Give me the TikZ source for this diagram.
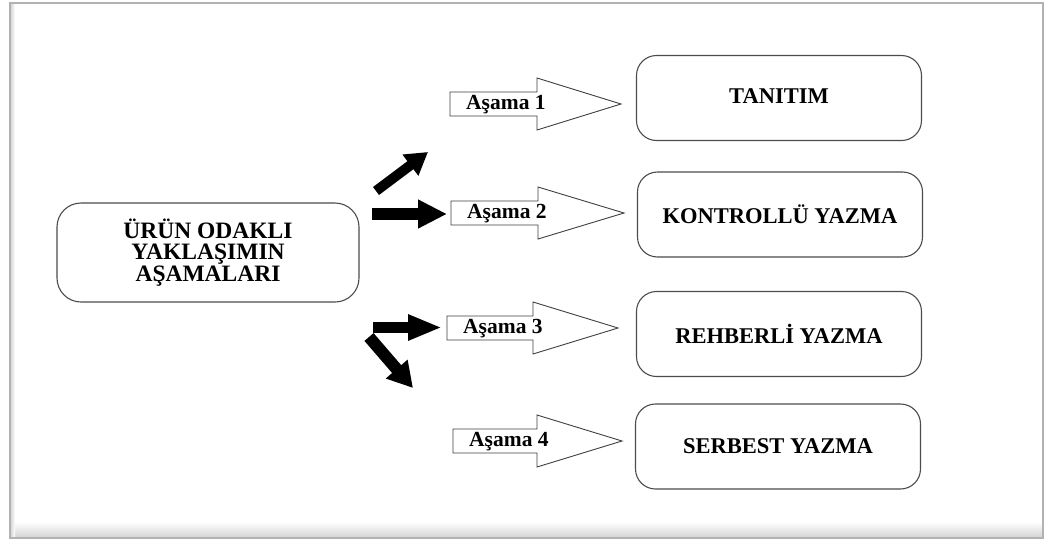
\documentclass[tikz,border=0pt]{standalone}
\usepackage{fontspec}
\setmainfont{Liberation Serif}
\usetikzlibrary{arrows.meta}

% outlined stage arrow with a label in its shaft
% #1 name, #2 left x, #3 head base x, #4 tip x, #5 centre y, #6 label
\newcommand\phasearrow[6]{%
  \draw[phaseline] (#2,#5-12) -- (#3,#5-12) -- (#3,#5-26) -- (#4,#5)
    -- (#3,#5+26) -- (#3,#5+12) -- (#2,#5+12) -- cycle;
  \node[phaselabel, anchor=west] (#1) at (#2+16,#5+1) {#6};
}

\begin{document}
\begin{tikzpicture}[x=1pt,y=-1pt,
  stagebox/.style={draw=black!70, line width=1.1pt, rounded corners=20pt,
    minimum width=285pt, minimum height=85pt, fill=white,
    font=\fontsize{22.5}{24}\selectfont\bfseries},
  rootbox/.style={draw=black!70, line width=1.1pt, rounded corners=24pt,
    minimum width=302pt, minimum height=99pt, fill=white, align=center,
    font=\fontsize{23.5}{21.5}\selectfont\bfseries},
  phaseline/.style={draw=black!75, line width=0.9pt, fill=white},
  phaselabel/.style={inner sep=0pt, font=\fontsize{21.5}{23}\selectfont\bfseries},
  pointer/.style={line width=#1, black, line cap=butt},
]
\useasboundingbox (0,0) rectangle (1046,541);

% page frame with a soft inner shadow
\fill[white] (0,0) rectangle (1046,541);
\shade[top color=white, bottom color=black!18] (10,522) rectangle (1043,538);
\shade[left color=black!18, right color=white] (10,3) rectangle (15,538);
\draw[black!30, line width=1.2pt] (10,3) rectangle (1043,538);

% main concept
\node[rootbox] (root) at (208,252.5) {\raisebox{-4pt}{\parbox{200pt}{\centering ÜRÜN ODAKLI\\YAKLAŞIMIN\\AŞAMALARI}}};

% stage boxes
\node[stagebox] (s1) at (779,98)  {\raisebox{4pt}{TANITIM}};
\node[stagebox] (s2) at (780,214.5) {KONTROLLÜ YAZMA};
\node[stagebox] (s3) at (779,334) {REHBERLİ YAZMA};
\node[stagebox] (s4) at (778,446.5) {SERBEST YAZMA};

% outlined stage arrows
\phasearrow{p1}{450}{537}{621}{104}{Aşama 1}
\phasearrow{p2}{451}{538}{624}{213}{Aşama 2}
\phasearrow{p3}{447}{533}{618}{328}{Aşama 3}
\phasearrow{p4}{453}{537}{622}{441}{Aşama 4}

% solid pointers out of the main concept
\coordinate (a1s) at (376,191); \coordinate (a1e) at (428,152);
\coordinate (a2s) at (372,214); \coordinate (a2e) at (447,214);
\coordinate (a3s) at (373,327.5); \coordinate (a3e) at (442,327.5);
\coordinate (a4s) at (369,337); \coordinate (a4e) at (413,388);
\draw[pointer=10pt, -{Triangle[length=22pt, width=25pt]}] (a1s) -- (a1e);
\draw[pointer=12pt, -{Triangle[length=29pt, width=27pt]}] (a2s) -- (a2e);
\draw[pointer=11pt, -{Triangle[length=34pt, width=24pt]}] (a3s) -- (a3e);
\draw[pointer=12pt, -{Triangle[length=25pt, width=27pt]}] (a4s) -- (a4e);
\end{tikzpicture}
\end{document}
